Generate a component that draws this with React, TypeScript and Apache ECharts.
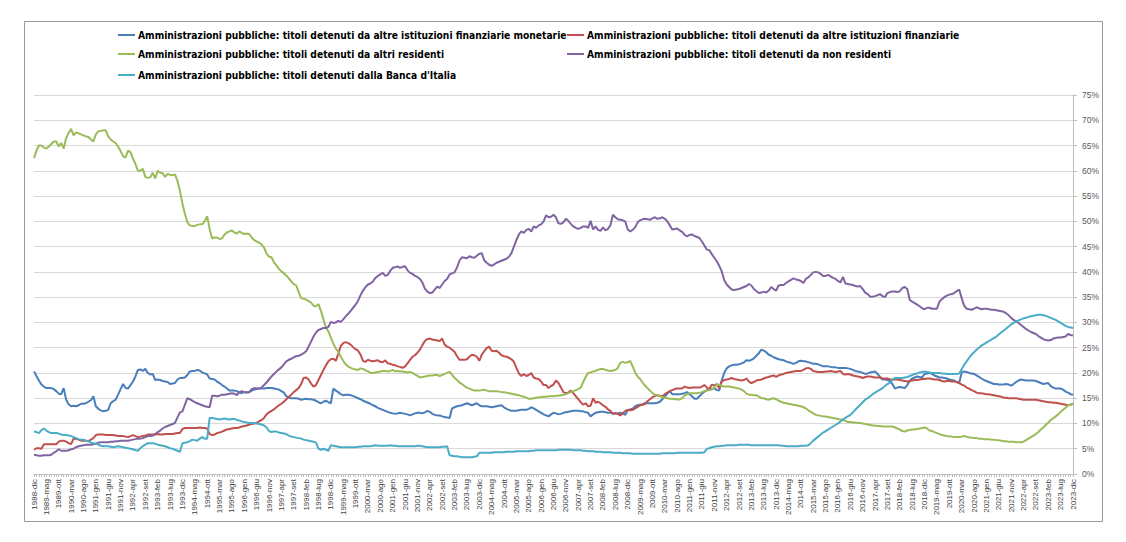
import React, { useEffect, useRef } from "react";
import * as echarts from "echarts";

// Category labels: monthly, 1988-dic .. 2023-dic
const MONTHS = ["gen", "feb", "mar", "apr", "mag", "giu", "lug", "ago", "set", "ott", "nov", "dic"];
const START_YEAR = 1988;
const START_MONTH_INDEX = 11; // dic
const N_POINTS = 421;
const categories: string[] = [];
for (let i = 0; i < N_POINTS; i++) {
  const m = START_MONTH_INDEX + i;
  categories.push(`${START_YEAR + Math.floor(m / 12)}-${MONTHS[m % 12]}`);
}

const NAMES = [
  "Amministrazioni pubbliche: titoli detenuti da altre istituzioni finanziarie monetarie",
  "Amministrazioni pubbliche: titoli detenuti da altre istituzioni finanziarie",
  "Amministrazioni pubbliche: titoli detenuti da altri residenti",
  "Amministrazioni pubbliche: titoli detenuti da non residenti",
  "Amministrazioni pubbliche: titoli detenuti dalla Banca d'Italia",
];

// Values in percent, one per month
const ifm = [
  20.3,19.4,18.5,17.7,17.3,17,17,17,16.8,16.4,
  15.9,15.8,17,14.7,13.8,13.4,13.5,13.4,13.6,13.9,
  13.9,14,14.3,14.6,15.4,13.4,12.9,12.6,12.4,12.5,
  12.7,14,14.4,14.7,15.7,16.8,17.8,17,16.9,17.6,
  18.3,19.3,20.6,20.7,20.4,20.8,20,19.7,19.8,18.6,
  18.7,18.6,18.4,18.3,18.2,17.8,17.9,18,18.7,19,
  19,19.1,19.6,20.3,20.4,20.4,20.6,20.5,20.1,19.9,
  19.7,18.9,18.8,18.7,18.3,18,17.6,17.3,16.9,16.5,
  16.5,16.5,16.4,16.1,16,16.2,16.2,16.2,16.5,16.7,
  16.8,16.9,16.9,16.9,17,17,17,16.9,16.8,16.7,
  16.4,16.1,15.4,15.1,15,15,15,14.9,14.7,14.8,
  14.9,14.8,14.8,14.7,14.5,14.2,14,14.3,14.5,14.2,
  14,16.9,16.5,16.2,15.8,15.6,15.7,15.7,15.6,15.4,
  15.2,15,14.8,14.5,14.3,14.1,13.9,13.6,13.4,13.1,
  12.9,12.7,12.5,12.3,12.1,12,11.9,12,12.1,12,
  11.9,11.8,11.6,11.8,12,12.1,12.1,12,12.2,12.5,
  12.3,11.9,11.7,11.6,11.6,11.4,11.3,11.2,11.1,13,
  13.2,13.4,13.5,13.6,13.8,14,13.8,13.6,13.8,14,
  13.6,13.4,13.4,13.4,13.3,13.2,13.3,13.4,13.5,13.6,
  13.2,12.9,12.7,12.5,12.5,12.5,12.6,12.7,12.7,12.7,
  12.9,13.2,13,12.7,12.4,12.1,11.8,11.6,11.4,11.8,
  12.1,12,11.8,11.9,12.1,12.2,12.3,12.4,12.5,12.5,
  12.5,12.4,12.4,12.2,12.1,11.4,11.8,12.1,12.2,12.3,
  12.3,12.2,12.1,12.1,12,11.9,12,12.1,12,11.7,
  12.6,12.8,12.9,13.4,13.6,13.7,13.8,14,14,14,
  14,14,14.1,14.3,14.8,15.3,15.9,16.4,15.8,15.8,
  15.8,15.8,15.9,16,16.2,15.8,15.4,14.9,14.9,15.4,
  15.9,16.3,16.6,16.8,16.8,17,16.6,16.5,18.5,20,
  20.9,21.3,21.5,21.6,21.6,21.7,21.9,22.1,22.5,22.4,
  22.6,22.9,23.4,23.9,24.6,24.4,24.1,23.6,23.4,23.1,
  22.9,22.7,22.6,22.5,22.3,22.1,22,21.8,22,22.3,
  22.4,22.3,22.3,22.1,22,21.8,21.8,21.7,21.5,21.3,
  21.3,21.3,21.2,21.1,21.1,21,21,21,21,20.9,
  20.8,20.6,20.4,20.3,20.2,20,19.8,19.9,20.1,20.2,
  20.3,19.8,19.2,18.7,18.7,18.6,18.4,17.8,16.9,17.1,
  17.2,17.1,17,17.6,18.4,18.9,19.1,19.3,19.2,19.1,
  19.8,19.9,20,19.8,19.5,19.3,19.1,19.1,19,18.9,
  18.7,18.6,18.5,18.2,18,20.1,20.3,20.2,20,19.9,
  19.8,19.5,19.2,18.9,18.6,18.4,18.2,18,17.8,17.8,
  17.7,17.7,17.7,17.8,17.7,17.5,17.8,18.2,18.5,18.7,
  18.6,18.5,18.5,18.5,18.5,18.4,18.2,18,17.8,17.9,
  18,17.4,17.1,16.9,16.9,16.9,16.7,16.3,16.1,15.8,
  15.7,
];

const altreIstFin = [
  4.8,5.1,5.1,5,5.9,5.9,5.9,5.9,5.9,5.9,
  6.4,6.6,6.6,6.4,6.1,5.9,7,6.9,6.8,6.6,
  6.6,6.6,6.5,6.8,7.1,7.7,7.8,7.8,7.8,7.7,
  7.7,7.7,7.7,7.6,7.5,7.5,7.5,7.4,7.3,7.5,
  7.7,7.5,7.3,7.4,7.5,7.6,7.8,7.8,7.8,7.8,
  7.9,7.8,7.8,7.9,7.9,7.9,7.9,8,8.1,8.1,
  8.9,9.1,9.1,9.1,9.1,9.1,9.1,9.2,9.1,9.1,
  9,7.9,7.7,7.8,8.1,8.2,8.4,8.6,8.8,8.9,
  9,9.1,9.1,9.2,9.4,9.5,9.6,9.8,9.9,10,
  10.1,10.4,10.7,11.1,11.8,12.2,12.5,12.8,13.2,13.6,
  13.9,14.3,14.8,15.3,15.7,16.2,16.6,17,17.8,19,
  19.1,18.7,17.9,17.3,17.6,18.6,19.6,20.6,21.5,22.3,
  22.7,22.8,22.4,23.8,25.3,25.9,26.1,25.9,25.6,25.1,
  24.7,24.4,23.6,22.4,22.2,22.6,22.4,22.3,22.4,22.5,
  22.2,22.1,22.5,21.9,21.8,21.6,21.5,21.3,21.2,21,
  21.3,21.9,22.6,23.2,23.5,24,24.6,25.5,26.3,26.7,
  26.8,26.6,26.5,26.4,26.3,26.8,25.6,25.2,25,24.6,
  24.2,23.3,22.6,22.6,22.6,22.7,23.2,23.6,23.5,23.2,
  22.4,23.6,24.3,24.9,25.2,24.4,24.3,24.4,24,23.5,
  23.3,23.2,23,22.7,22.2,21,19.9,19.4,19.8,19.4,
  19.6,20,19.1,18.9,18.8,18.3,17.6,17.6,17,17.4,
  17.7,18.5,18,17.1,16.2,16,16.1,16.5,16,15.4,
  14.8,14.2,13.7,14,13.4,13.5,15,14.1,14.3,14,
  13.6,13.3,12.8,12.5,11.9,12.1,11.9,11.6,12,12.5,
  12.7,12.6,12.7,13,13.3,13.6,13.7,13.9,14.4,14.8,
  15.2,15.4,15.6,15.5,15.4,15.8,16.1,16.4,16.6,16.8,
  16.9,16.9,16.9,17.3,17.1,17,17.1,17.1,17.1,17.1,
  17.3,17.6,17.1,16.8,17.7,17.5,17.8,16.9,18.3,18.6,
  18.7,18.8,19,18.8,18.7,18.6,18.5,18.6,18.9,18.3,
  18,18.2,18.5,18.6,18.7,18.9,19.1,19.2,19.4,19.5,
  19.2,19.5,19.7,19.8,20,20.1,20.2,20.3,20.4,20.4,
  20.4,20.6,20.9,21,20.8,20.4,20.3,20.2,20.2,20.2,
  20.3,20.3,20.4,20.3,20.2,20.3,20.4,19.8,19.7,19.8,
  19.7,19.5,19.4,19.3,19.2,19,19.2,19.3,19.3,19.2,
  19.1,19.1,19.1,18.9,18.9,18.9,18.7,18.7,18.7,18.7,
  18.6,18.5,18.4,18.3,18.4,18.5,18.6,18.6,18.7,18.8,
  18.8,18.9,18.9,18.8,18.7,18.7,18.6,18.4,18.3,18.4,
  18.4,18.3,18.3,18.2,18,17.7,17.5,17.1,16.9,16.6,
  16.4,16.1,16,16,15.9,15.8,15.8,15.7,15.6,15.5,
  15.4,15.3,15.1,15.1,15,15,15,15,14.9,14.8,
  14.7,14.7,14.7,14.7,14.7,14.7,14.6,14.5,14.4,14.3,
  14.2,14.2,14.1,14.1,14,13.9,13.8,13.7,13.6,13.7,
  13.9,
];

const altriResidenti = [
  62.5,64,65,65,64.6,64.4,64.8,65.3,65.8,65.8,
  64.8,65.5,64.4,66.5,67.5,68.3,67,67.6,67.4,67.2,
  67,66.8,66.7,66.2,65.8,67.2,67.8,67.9,68,68,
  66.8,66.2,65.8,65.5,64.8,63.9,62.9,62.6,64,63.7,
  62.4,61.4,60,60,60.4,58.8,58.6,58.7,59.6,58.5,
  60,59.6,59.5,58.8,59.4,59.2,59.1,59.3,58,56,
  53.5,51.5,49.8,49.2,49.1,49.1,49.3,49.4,49.4,50,
  51,48.5,46.6,46.8,46.8,46.5,46.6,47.4,47.8,48,
  48.2,47.8,47.6,48,47.7,47.5,47.6,47.5,46.8,46.3,
  46,45.8,45.4,44.8,43.6,43,42.9,41.9,41.3,40.6,
  40.1,39.7,39.3,38.7,38.1,37.6,37.3,36,34.8,34.7,
  34.5,34.2,33.9,33.3,33.2,33.6,32.3,30.6,29,28.2,
  27,25.8,24.8,24.2,23.2,22.4,21.7,21.3,21,20.8,
  20.7,20.6,20.9,20.8,20.5,20.3,20,20,20.1,20.2,
  20.3,20.4,20.4,20.3,20.4,20.6,20.3,20.4,20.3,20.3,
  20.2,20.1,20.2,20,19.7,19.4,19.1,19.2,19.3,19.4,
  19.5,19.5,19.6,19.6,19.4,19.6,19.8,20,20.2,19.6,
  19,18.6,18.1,17.8,17.4,17.1,16.9,16.7,16.5,16.5,
  16.5,16.6,16.7,16.5,16.4,16.4,16.4,16.4,16.3,16.2,
  16.2,16.1,16,15.9,15.8,15.7,15.6,15.4,15.3,15.1,
  14.9,14.9,15,15.1,15.2,15.2,15.3,15.3,15.4,15.4,
  15.4,15.5,15.5,15.6,15.7,15.8,16,16.2,16.4,16.6,
  16.8,17.1,18.2,19.2,20,20.1,20.3,20.4,20.6,20.8,
  20.8,20.6,20.5,20.4,20.5,20.6,21,22,22.2,22,
  22.1,22.4,21.3,20.1,19.3,18.8,18.1,17.5,17,16.5,
  16,15.7,15.5,15.4,15.2,15.1,15,14.9,14.9,14.8,
  14.8,14.7,15,15.5,15.8,16,16,16,16,16.1,
  16.2,16.4,16.5,16.6,16.7,17.2,17.6,17.7,17.4,17.3,
  17.3,17.3,17.2,17.1,17,16.9,16.7,16.4,15.9,15.7,
  15.7,15.6,15.6,15.3,15,15,14.8,14.7,14.9,15,
  14.8,14.5,14.3,14.1,14,13.9,13.8,13.7,13.6,13.5,
  13.4,13.2,13,12.6,12.3,12,11.7,11.6,11.5,11.4,
  11.4,11.3,11.2,11.1,11,10.9,10.8,10.7,10.5,10.3,
  10.3,10.2,10.2,10.1,10.1,10,9.9,9.8,9.7,9.6,
  9.6,9.5,9.5,9.4,9.4,9.4,9.4,9.4,9.2,9,
  8.8,8.5,8.4,8.6,8.7,8.8,8.8,8.9,9,9.1,
  9.2,9,8.6,8.5,8.3,8.1,7.9,7.7,7.6,7.5,
  7.4,7.4,7.3,7.3,7.3,7.4,7.5,7.4,7.2,7.2,
  7.1,7.1,7,7,6.9,6.9,6.9,6.8,6.8,6.7,
  6.7,6.6,6.5,6.5,6.4,6.4,6.4,6.3,6.3,6.3,
  6.4,6.7,7,7.3,7.6,7.9,8.3,8.8,9.2,9.7,
  10.2,10.7,11,11.4,11.8,12.3,12.7,13.1,13.6,13.7,
  13.9,
];

const nonResidenti = [
  3.8,3.7,3.6,3.6,3.7,3.7,3.7,3.8,4.2,4.5,
  4.9,4.6,4.6,4.6,4.7,4.9,5,5.3,5.5,5.6,
  5.7,5.8,5.8,5.8,5.9,6,6.2,6.3,6.3,6.3,
  6.3,6.4,6.4,6.5,6.5,6.6,6.6,6.6,6.6,6.7,
  6.8,6.9,7,7,7.1,7.3,7.5,7.5,7.6,7.9,
  8.3,8.6,9,9.3,9.5,9.7,9.9,10.1,11.2,12.2,
  12.4,13.7,15,14.8,14.5,14.2,14,13.8,13.6,13.4,
  13.3,13.2,15.5,15.5,15.4,15.5,15.7,15.7,15.8,15.9,
  16,15.9,15.6,16.2,16.4,16.2,16.1,16.2,16.8,17,
  16.9,16.9,17.1,17.6,18.1,18.7,19.3,19.8,20.3,20.7,
  21.1,21.7,22.3,22.6,22.8,23.1,23.3,23.4,23.6,23.9,
  24.3,25.2,26.2,27.2,28,28.5,28.7,28.9,28.9,29.1,
  30.1,29.9,30,30.3,30.1,30.6,31.2,31.7,32.3,32.9,
  33.5,34.3,35.4,36.3,37,37.5,37.7,38.1,38.8,39.2,
  39.5,39.8,39.2,39.4,40.2,40.8,40.9,41.1,40.8,41,
  41.1,40.3,39.8,39.6,39.2,39,38.6,37.9,36.7,36.1,
  35.8,35.9,36.5,37.1,36.8,37.5,38.2,38.6,39.5,39.7,
  39.9,40.9,42.2,42.9,42.8,42.7,43.1,42.9,42.8,43.2,
  43.6,43.7,42.3,41.8,41.4,41.2,41.5,41.8,42,42.2,
  42.4,42.6,43,43.7,45,46.3,47.4,48,47.7,48.3,
  48.5,48,49,48.7,49.2,49.4,50,51.2,50.8,50.9,
  51.3,50.8,49.6,49.5,49.8,50.5,50.1,49.5,49,48.7,
  48.5,48.7,49,49,48.7,50.1,48.4,49,48.3,48.1,
  48.8,48.2,48.5,49.2,51.3,50.8,50.4,50.3,50.2,50,
  48.4,48,48.3,48.8,49.8,50.2,50.4,50.5,50.4,50.3,
  50.6,50.8,50.5,50.6,50.8,50.5,50,49.2,48.4,48.5,
  48.6,48.2,47.9,47.3,47,47.3,47.4,47.1,46.9,46.7,
  46,45.2,44.4,44.3,43.5,42.8,42.1,41.2,40.1,38.4,
  37.5,37,36.5,36.4,36.5,36.6,36.8,37,37.2,37.6,
  37.3,36.6,36.2,35.8,35.9,36.1,35.9,36.3,37,36.6,
  36.3,37.3,37.4,37.4,37.8,38.1,38.4,38.7,38.5,38.4,
  38.2,37.8,38.6,38.9,39.4,39.9,40,39.9,39.6,39.2,
  39.2,39.4,39.1,38.8,38.6,38.2,37.9,39,37.7,37.6,
  37.5,37.4,37.2,37.1,37.2,36.6,35.9,35.6,35.1,35.1,
  35.2,35.4,35.6,35.2,35,35.8,36,36.1,36.1,36,
  36.2,36.8,37,36.6,34.5,34.1,33.8,33.5,33.2,32.8,
  32.6,32.9,32.9,32.7,32.7,32.7,34.1,34.6,35,35.3,
  35.5,35.6,35.8,36.2,36.5,34.8,33.3,32.7,32.6,32.5,
  32.7,33,32.8,32.6,32.7,32.7,32.6,32.5,32.5,32.4,
  32.3,32.2,32.1,31.8,31.4,30.9,30.5,30.2,29.9,29.5,
  29.1,28.7,28.4,28.1,27.9,27.7,27.3,27,26.7,26.5,
  26.4,26.5,26.8,26.9,27,27,27.1,27.2,27.7,27.5,
  27.4,
];

const bancaItalia = [
  8.4,8.3,8.1,8.7,9,8.6,8.3,8.1,8.1,8.1,
  8,7.8,7.7,7.7,7.6,7.5,7.3,7.1,6.9,6.8,
  6.8,6.6,6.5,6.2,6.1,6,5.8,5.6,5.5,5.5,
  5.5,5.4,5.3,5.4,5.5,5.4,5.3,5.2,5.1,5,
  4.9,4.7,4.6,5.1,5.5,5.8,6.1,6.1,6.1,6,
  5.8,5.7,5.6,5.5,5.3,5.1,5,4.8,4.6,4.4,
  6.1,6.2,6.3,6.5,6.8,6.7,6.6,7,7.3,7,
  7,11.1,11.1,11,10.9,10.8,10.9,11,10.9,10.8,
  10.9,10.9,10.7,10.6,10.4,10.3,10.2,10.1,10.1,10.1,
  10,9.9,9.8,9.6,9.2,8.5,8.3,8.4,8.4,8.2,
  8.1,8,7.9,7.6,7.4,7.3,7.2,7.1,7,6.8,
  6.7,6.6,6.5,6.4,6.2,5,4.8,5,4.8,4.6,
  5.7,5.6,5.5,5.4,5.3,5.3,5.3,5.3,5.3,5.3,
  5.3,5.4,5.4,5.5,5.5,5.5,5.5,5.6,5.7,5.6,
  5.6,5.6,5.6,5.6,5.7,5.6,5.6,5.5,5.5,5.5,
  5.5,5.5,5.5,5.5,5.5,5.6,5.6,5.5,5.4,5.3,
  5.3,5.3,5.3,5.3,5.3,5.4,5.4,5.5,3.7,3.6,
  3.5,3.5,3.4,3.3,3.3,3.3,3.3,3.3,3.4,3.5,
  4.2,4.2,4.2,4.2,4.2,4.2,4.3,4.3,4.3,4.3,
  4.3,4.4,4.4,4.4,4.4,4.5,4.5,4.5,4.5,4.5,
  4.5,4.6,4.6,4.7,4.7,4.7,4.7,4.7,4.7,4.7,
  4.7,4.7,4.8,4.8,4.8,4.8,4.8,4.8,4.7,4.7,
  4.7,4.7,4.6,4.6,4.5,4.5,4.5,4.4,4.4,4.4,
  4.3,4.3,4.3,4.3,4.2,4.2,4.2,4.2,4.1,4.1,
  4.1,4.1,4,4,4,4,4,4,4,4,
  4,4,4,4,4.1,4.1,4.1,4.1,4.1,4.1,
  4.2,4.2,4.2,4.2,4.2,4.2,4.2,4.2,4.2,4.2,
  4.2,4.3,5,5.1,5.3,5.4,5.5,5.5,5.6,5.6,
  5.7,5.7,5.7,5.7,5.7,5.8,5.8,5.8,5.8,5.8,
  5.7,5.7,5.7,5.7,5.7,5.7,5.7,5.7,5.7,5.7,
  5.7,5.7,5.6,5.6,5.5,5.5,5.5,5.5,5.5,5.5,
  5.6,5.6,5.6,5.7,6.1,6.6,7,7.4,7.8,8.2,
  8.5,8.8,9.1,9.4,9.7,10,10.4,10.8,11.1,11.4,
  11.7,12.2,12.7,13.2,13.7,14.2,14.7,15,15.4,15.8,
  16.1,16.4,16.7,17,17.4,17.8,18.1,18.6,19,19,
  19,19,19.1,19.2,19.4,19.6,19.8,19.9,20.1,20.2,
  20.3,20.2,20.1,20,20,20,20,19.9,19.9,19.8,
  19.8,19.8,19.8,19.8,19.9,20.7,21.6,22.3,23,23.6,
  24.1,24.6,25,25.4,25.7,26,26.3,26.6,26.9,27.2,
  27.6,28,28.4,28.8,29.2,29.6,29.9,30.2,30.4,30.6,
  30.8,30.9,31.1,31.2,31.3,31.4,31.5,31.5,31.4,31.3,
  31.1,30.9,30.7,30.5,30.2,29.9,29.6,29.3,29.1,29,
  28.9,
];

const SERIES_DATA = [ifm, altreIstFin, altriResidenti, nonResidenti, bancaItalia];
const COLORS = ["#4A7EBB", "#C0504D", "#9BBB59", "#8064A2", "#4BACC6"];

const LEGEND_FONT = "'DejaVu Sans Condensed', 'Liberation Sans', sans-serif";
const AXIS_FONT = "'Liberation Sans', 'DejaVu Sans', sans-serif";

export default function App() {
  const ref = useRef<HTMLDivElement>(null);

  useEffect(() => {
    if (!ref.current) return;
    const chart = echarts.init(ref.current, undefined, { renderer: "svg" });

    const legendBase = {
      icon: "rect",
      itemWidth: 17,
      itemHeight: 2,
      padding: 0,
      itemGap: 0,
      selectedMode: false,
      textStyle: { fontFamily: LEGEND_FONT, fontWeight: "bold", fontSize: 10.2, color: "#000", padding: [0, 0, 0, -2] },
    };
    const legendPos = [
      { left: 118, top: 30 },
      { left: 567, top: 30 },
      { left: 118, top: 49 },
      { left: 567, top: 49 },
      { left: 118, top: 70 },
    ];

    chart.setOption({
      animation: false,
      backgroundColor: "#fff",
      graphic: [
        {
          type: "rect",
          silent: true,
          shape: { x: 24.5, y: 21.5, width: 1078, height: 500 },
          style: { fill: "none", stroke: "#9A9A9A", lineWidth: 1 },
        },
      ],
      legend: NAMES.map((n, k) => ({ ...legendBase, ...legendPos[k], data: [n] })),
      grid: { left: 34, right: 53, top: 95, bottom: 68, containLabel: false },
      xAxis: {
        type: "category",
        data: categories,
        boundaryGap: false,
        axisLine: { show: true, lineStyle: { color: "#BFBFBF", width: 1 } },
        axisTick: { show: true, interval: 0, length: 3, lineStyle: { color: "#BFBFBF" } },
        axisLabel: {
          interval: 4,
          rotate: 90,
          fontSize: 8,
          color: "#404040",
          fontFamily: AXIS_FONT,
          margin: 5,
        },
        splitLine: { show: false },
      },
      yAxis: {
        type: "value",
        position: "right",
        min: 0,
        max: 75,
        interval: 5,
        axisLine: { show: true, lineStyle: { color: "#BFBFBF", width: 1 } },
        axisTick: { show: true, length: 4, lineStyle: { color: "#BFBFBF" } },
        axisLabel: {
          formatter: "{value}%",
          fontSize: 8.5,
          color: "#595959",
          fontFamily: AXIS_FONT,
          margin: 9,
        },
        splitLine: { show: true, lineStyle: { color: "#D9D9D9", width: 1 } },
      },
      series: NAMES.map((n, k) => ({
        name: n,
        type: "line",
        data: SERIES_DATA[k],
        showSymbol: false,
        symbol: "none",
        color: COLORS[k],
        lineStyle: { width: 2, color: COLORS[k] },
        emphasis: { disabled: true },
      })),
    });

    return () => chart.dispose();
  }, []);

  return (
    <div
      ref={ref}
      style={{ position: "absolute", left: 0, top: 0, width: 1126, height: 542 }}
    />
  );
}
